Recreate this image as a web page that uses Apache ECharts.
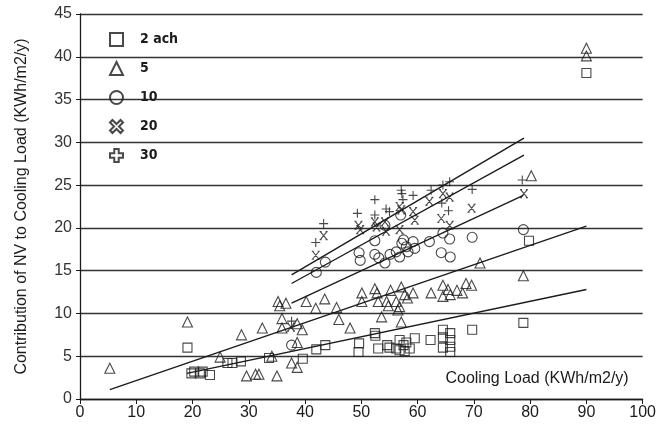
<!DOCTYPE html>
<html>
<head>
<meta charset="utf-8">
<script src="https://cdn.jsdelivr.net/npm/echarts@6/dist/echarts.min.js"></script>
<style>
  html, body { margin: 0; padding: 0; background: #fff; }
  #main { width: 659px; height: 426px; }
</style>
</head>
<body>
<div id="main"></div>
<script>
// ach series, [cooling load, contribution of NV]
var ach2 = [[19.1,6.0],[19.8,3.0],[20.3,3.2],[21.3,3.0],[21.8,3.2],[23.1,2.8],[26.2,4.2],[27.1,4.2],[28.6,4.4],
  [33.6,4.8],[39.6,4.7],[42.0,5.8],[43.6,6.3],[49.6,6.5],[49.5,5.5],[52.4,7.7],[52.5,7.4],[53.0,5.9],[54.6,6.3],
  [55.0,6.0],[56.2,5.9],[56.8,6.9],[56.8,5.7],[57.5,6.3],[57.7,5.6],[58.0,6.6],[58.6,5.9],[59.5,7.1],[62.3,6.9],
  [64.5,8.1],[64.5,6.0],[64.5,7.2],[65.8,7.7],[65.8,6.9],[65.8,6.1],[65.8,5.5],[69.7,8.1],[78.8,8.9],[79.8,18.5],[90,38.1]];
var ach5 = [[5.3,3.6],[19.1,9.0],[24.9,4.9],[28.7,7.5],[29.6,2.7],[31.2,2.9],[31.8,2.9],[32.4,8.3],[34.1,5.0],
  [35.0,2.7],[35.2,11.4],[35.5,10.9],[36.6,11.2],[35.9,9.4],[35.9,8.3],[37.6,4.2],[38.6,3.7],[38.6,6.6],[38.6,8.8],
  [39.5,8.1],[40.2,11.4],[41.9,10.6],[43.5,11.7],[45.6,10.7],[46.0,9.3],[48.0,8.3],[50.1,12.4],[50.1,11.4],
  [52.4,12.9],[52.8,12.4],[53.0,11.4],[53.6,9.6],[54.5,11.4],[54.8,10.9],[55.2,12.7],[56.2,11.4],[56.5,10.4],
  [56.8,10.8],[57.1,13.1],[57.1,9.0],[57.7,12.2],[58.2,11.8],[59.2,12.4],[62.4,12.4],[64.5,13.3],[64.5,12.0],
  [65.4,12.8],[65.8,12.2],[67.0,12.7],[68.0,12.4],[68.6,13.5],[69.6,13.3],[71.1,15.9],[78.8,14.4],[80.2,26.1],
  [90,41.0],[90,40.1]];
var ach10 = [[37.6,6.3],[42.0,14.8],[43.6,16.0],[49.6,17.1],[49.8,16.2],[52.4,18.5],[52.4,16.9],[53.1,16.5],
  [54.2,15.9],[54.2,20.3],[55.1,16.9],[56.2,17.2],[56.8,16.6],[57.0,21.5],[57.2,18.2],[57.5,18.6],[58.0,17.8],
  [58.3,17.2],[59.2,18.4],[59.5,17.6],[62.1,18.4],[64.2,17.1],[64.5,19.4],[65.7,18.7],[65.8,16.6],[69.7,18.9],[78.8,19.8]];
var ach20 = [[37.5,8.4],[41.9,16.8],[43.3,19.1],[49.5,20.3],[49.8,19.8],[52.4,20.7],[52.7,20.1],[54.2,20.7],
  [54.4,19.6],[56.8,22.5],[57.1,22.1],[56.8,19.8],[59.2,21.9],[59.5,20.9],[62.1,23.1],[64.5,24.0],[65.7,23.6],
  [64.2,21.1],[65.7,20.3],[69.6,22.3],[78.9,24.0]];
var ach30 = [[37.6,9.1],[41.9,18.3],[43.3,20.5],[49.3,21.7],[52.4,23.3],[52.4,21.5],[54.4,22.2],[55.0,21.9],
  [57.1,24.4],[57.2,24.0],[57.4,23.3],[59.2,23.8],[62.4,24.4],[64.5,25.0],[65.7,25.4],[64.3,22.9],[65.5,22.0],
  [69.7,24.5],[78.6,25.6]];

// trend line end points
var fit2 = [[19, 3.0], [90, 12.8]];
var fit5 = [[5.3, 1.1], [90, 20.2]];
var fit10 = [[37.6, 11.2], [78.8, 23.8]];
var fit20 = [[37.6, 13.5], [78.9, 28.5]];
var fit30 = [[37.6, 14.5], [78.9, 30.5]];

var names = ['2 ach', '5', '10', '20', '30'];
var xTicks = [0, 10, 20, 30, 40, 50, 60, 70, 80, 90, 100];
var yTicks = [0, 5, 10, 15, 20, 25, 30, 35, 40, 45];

var ink = '#1b1b1b';
var xPath = 'path://M0,0L10,10M10,0L0,10M-1,0L2,0M8,0L11,0M-1,10L2,10M8,10L11,10';
var plusPath = 'path://M5,0L5,10M0,5L10,5';
var xIcon = 'path://M1,2.5L2.5,1L5,3.5L7.5,1L9,2.5L6.5,5L9,7.5L7.5,9L5,6.5L2.5,9L1,7.5L3.5,5Z';
var plusIcon = 'path://M3.3,0H6.7V3.3H10V6.7H6.7V10H3.3V6.7H0V3.3H3.3Z';

function pts(name, data, symbol, size) {
  return {
    name: name, type: 'scatter', data: data, symbol: symbol, symbolSize: size,
    itemStyle: { color: 'transparent', borderColor: ink, borderWidth: 1.1 },
    emphasis: { disabled: true }, z: 3
  };
}
function fit(data) {
  return {
    type: 'line', data: data, symbol: 'none', silent: true, z: 2,
    lineStyle: { color: ink, width: 1.4 }
  };
}

var chart = echarts.init(document.getElementById('main'));
chart.setOption({
  backgroundColor: '#fff',
  animation: false,
  textStyle: { fontFamily: 'Liberation Sans, Arial, sans-serif' },
  grid: { left: 80, right: 13, top: 14, bottom: 27 },
  legend: {
    orient: 'vertical', left: 104, top: 27,
    itemWidth: 13, itemHeight: 13, itemGap: 14,
    itemStyle: { borderWidth: 2, borderColor: ink, color: 'transparent' },
    textStyle: {
      fontFamily: 'DejaVu Sans Condensed, Liberation Sans Narrow, sans-serif',
      fontWeight: 'bold', fontSize: 14, color: ink, padding: [0, 0, 0, 12]
    },
    data: [
      { name: names[0], icon: 'rect' },
      { name: names[1], icon: 'triangle' },
      { name: names[2], icon: 'circle' },
      { name: names[3], icon: xIcon },
      { name: names[4], icon: plusIcon }
    ]
  },
  xAxis: {
    type: 'value', min: xTicks[0], max: xTicks[xTicks.length - 1], interval: 10,
    name: 'Cooling Load (KWh/m2/y)', nameLocation: 'end', nameGap: -14,
    nameTextStyle: { fontSize: 16, color: ink, align: 'right', verticalAlign: 'bottom', padding: [0, 0, 12, 0] },
    axisLine: { lineStyle: { color: ink, width: 1.3 } },
    axisTick: { show: true, length: 5, lineStyle: { color: ink } },
    axisLabel: { fontSize: 16, color: ink, margin: 6 },
    splitLine: { show: false }
  },
  yAxis: {
    type: 'value', min: yTicks[0], max: yTicks[yTicks.length - 1], interval: 5,
    name: 'Contribution of NV to Cooling Load (KWh/m2/y)', nameLocation: 'middle', nameGap: 50,
    nameTextStyle: { fontSize: 16, color: ink },
    axisLine: { show: true, lineStyle: { color: ink, width: 1.3 } },
    axisTick: { show: true, length: 4, lineStyle: { color: ink } },
    axisLabel: { fontSize: 16, color: '#333', margin: 8 },
    splitLine: { show: true, lineStyle: { color: '#333', width: 1.3 } }
  },
  series: [
    pts(names[0], ach2, 'rect', 9),
    pts(names[1], ach5, 'triangle', 10),
    pts(names[2], ach10, 'circle', 10),
    pts(names[3], ach20, xPath, 8),
    pts(names[4], ach30, plusPath, 9),
    fit(fit2), fit(fit5), fit(fit10), fit(fit20), fit(fit30)
  ]
});
</script>
</body>
</html>
